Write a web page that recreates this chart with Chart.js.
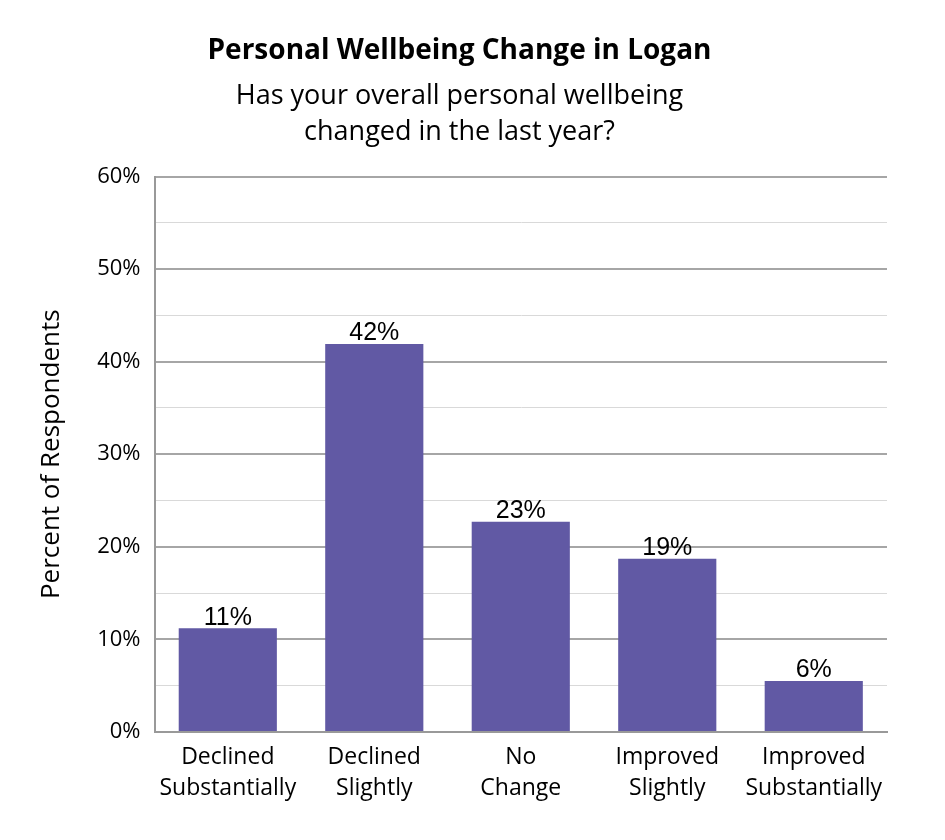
<!DOCTYPE html>
<html>
<head>
<meta charset="utf-8">
<script src="https://cdn.jsdelivr.net/npm/chart.js@4"></script>
<style>
  body { margin: 0; background: #fff; }
  #wrap { width: 945px; height: 840px; }
</style>
</head>
<body>
<div id="wrap"><canvas id="canvas_grafico"></canvas></div>
<script>
const categories = [['Declined', 'Substantially'], ['Declined', 'Slightly'], ['No', 'Change'], ['Improved', 'Slightly'], ['Improved', 'Substantially']];
const percentValues = [11.2, 41.9, 22.7, 18.7, 5.5];
const valueLabels = ['11%', '42%', '23%', '19%', '6%'];

// desenha os rótulos em cima das barras
const barLabels = {
    id: 'barLabels',
    afterDatasetsDraw(chart) {
        const ctx = chart.ctx;
        const meta = chart.getDatasetMeta(0);
        ctx.save();
        ctx.font = '25px "Liberation Sans", Arial, sans-serif';
        ctx.fillStyle = '#000';
        ctx.textAlign = 'center';
        ctx.textBaseline = 'bottom';
        meta.data.forEach(function(bar, i) {
            ctx.fillText(valueLabels[i], bar.x, bar.y + 2);
        });
        ctx.restore();
    }
};

const ctx = document.getElementById('canvas_grafico').getContext('2d');
new Chart(ctx, {
    type: 'bar',
    data: {
        labels: categories,
        datasets: [{
            data: percentValues,
            backgroundColor: '#6159A4',
            barPercentage: 0.67,
            categoryPercentage: 1.0
        }]
    },
    options: {
        responsive: true,
        maintainAspectRatio: false,
        animation: false,
        layout: { padding: { left: 32, right: 58, top: 10, bottom: 34 } },
        scales: {
            x: {
                grid: { display: false },
                border: { color: '#999', width: 2 },
                ticks: {
                    color: '#000',
                    font: { size: 23, family: '"Open Sans", sans-serif', lineHeight: 1.35 },
                    maxRotation: 0,
                    padding: 2
                }
            },
            y: {
                min: 0,
                max: 60,
                border: { color: '#999', width: 2 },
                grid: {
                    color: function(c) { return c.tick.value % 10 === 0 ? '#a6a6a6' : '#d9d9d9'; },
                    lineWidth: function(c) { return c.tick.value % 10 === 0 ? 2 : 1; },
                    drawTicks: false
                },
                ticks: {
                    stepSize: 5,
                    color: '#000',
                    padding: 14,
                    font: { size: 22, family: '"Open Sans", sans-serif' },
                    callback: function(v) { return v % 10 === 0 ? v + '%' : ''; }
                },
                title: {
                    display: true,
                    text: 'Percent of Respondents',
                    color: '#000',
                    font: { size: 26, family: '"Open Sans", sans-serif' },
                    padding: { bottom: 16 }
                }
            }
        },
        plugins: {
            legend: { display: false },
            tooltip: { enabled: false },
            title: {
                display: true,
                text: 'Personal Wellbeing Change in Logan',
                color: '#000',
                font: { size: 28, weight: 'bold', family: '"Open Sans", sans-serif' },
                padding: { top: 24, bottom: 10 }
            },
            subtitle: {
                display: true,
                text: ['Has your overall personal wellbeing', 'changed in the last year?'],
                color: '#000',
                font: { size: 27, family: '"Open Sans", sans-serif', lineHeight: 1.35 },
                padding: { bottom: 26 }
            }
        }
    },
    plugins: [barLabels]
});
</script>
</body>
</html>
